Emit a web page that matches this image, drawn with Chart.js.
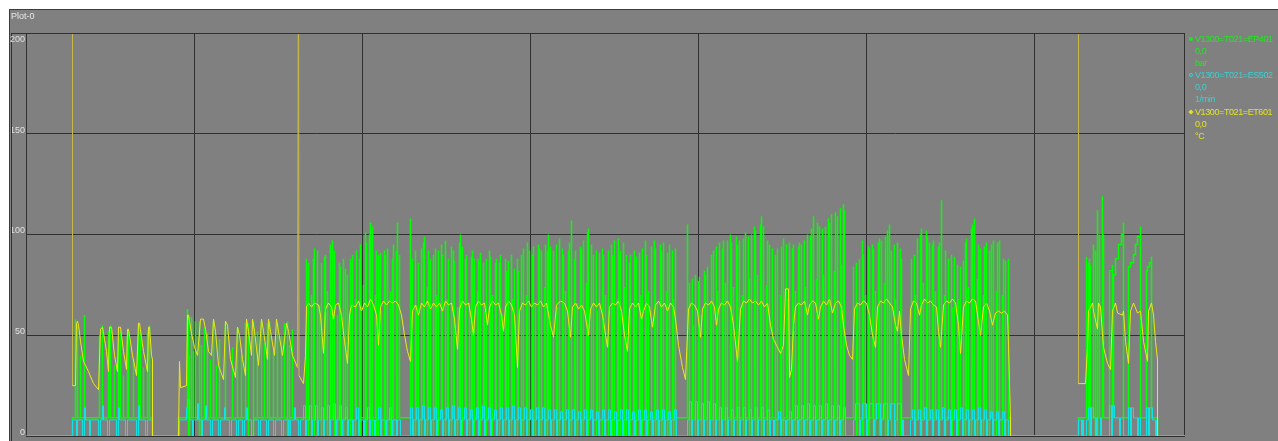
<!DOCTYPE html>
<html lang="de">
<head>
<meta charset="utf-8">
<title>Plot-0</title>
<script src="https://cdn.jsdelivr.net/npm/chart.js@4.4.1/dist/chart.umd.min.js"></script>
<style>
  html, body { margin: 0; padding: 0; background: #ffffff; }
  #panel { position: relative; width: 1278px; height: 441px; overflow: hidden; font-family: "Liberation Sans", Arial, sans-serif; }
  #plot { position: absolute; left: 0; top: 0; }
  #title { position: absolute; left: 11px; top: 11px; font-size: 9px; line-height: 10px; color: #e8e8e8; }
  #legend { position: absolute; left: 1188px; top: 33px; font-size: 9px; line-height: 12.1px; letter-spacing: -0.4px; white-space: nowrap; }
  #legend .row { position: relative; padding-left: 7px; }
  #legend .mark { position: absolute; left: 1px; top: 4px; width: 4px; height: 4px; box-sizing: border-box; }
  #legend .dot { border-radius: 50%; }
  #legend .ring { border-radius: 50%; border: 1px solid; }
  #legend .diamond { transform: rotate(45deg) scale(0.9); }
</style>
</head>
<body>
<div id="panel">
  <canvas id="plot" width="1278" height="441"></canvas>
  <div id="title">Plot-0</div>
  <div id="legend"></div>
</div>
<script>
(function() {
  'use strict';

  // Series meta
  const seriesNames = ['V1300=T021=EP401', 'V1300=T021=ES502', 'V1300=T021=ET601'];
  const seriesValues = ['0,0', '0,0', '0,0'];
  const seriesUnits = ['bar', '1/min', '°C'];
  const seriesColors = ['#00ff00', '#12e2e2', '#eaea18'];
  const markerLineColor = '#c8b848';
  const legendText = ['#22e622', '#3ccfcf', '#e2e224'];
  const legendMarks = ['dot', 'ring', 'diamond'];

  // Axes
  const valueTicks = [0, 50, 100, 150, 200];
  const timeTicks = [0, 168, 336, 504, 672, 840, 1008, 1158];

  // EP401 (bar) - sample index, value (drawn stepped)
  const greenEP401 = [
    0,0, 46,0, 46,9, 49,58,49,9, 51,55,51,9, 54,40,54,9, 58,60,58,9, 73,50,73,9, 76,55,76,9, 82,52,82,9, 84,55,84,9, 88,35,88,9, 92,48,92,9, 94,52,94,9, 97,30,97,9,
    101,50,101,9, 102,52,102,9, 107,38,107,9, 112,55,112,9, 114,52,114,9, 117,34,117,9, 121,52,121,9, 123,55,123,9, 126,9, 126,0, 152,0, 152,9,
    161,63,161,9, 162,60,162,0, 163,40,163,9, 165,59,165,9, 167,42,167,9, 169,57,169,9, 173,57,173,0, 175,45,175,9, 178,54,178,9, 181,51,181,9, 184,38,184,9, 187,57,187,9,
    190,35,190,9, 193,48,193,9, 199,56,199,9, 206,44,206,9, 211,54,211,9, 215,40,215,9, 219,56,219,9, 222,56,222,0, 227,57,227,9, 231,52,231,9, 235,57,235,9, 238,46,238,9,
    241,56,241,9, 243,57,243,9, 247,42,247,9, 251,56,251,9, 255,50,255,9, 258,56,258,9, 261,57,261,0, 263,45,263,9, 266,53,266,9,
    280,88,280,9, 282,86,282,0, 285,70,285,9, 287,88,287,9, 288,93,288,0, 291,92,291,9, 293,65,293,9, 295,86,295,0, 298,89,298,9, 299,90,299,9, 301,72,301,0, 304,95,304,9,
    306,97,306,9, 308,92,308,0, 311,60,311,9, 313,86,313,9, 314,84,314,0, 317,88,317,9, 319,83,319,9, 321,80,321,0,
    324,88,324,9, 326,90,326,0, 329,68,329,9, 330,92,330,9, 333,88,333,0, 334,95,334,9, 337,75,337,9, 339,101,339,0, 340,96,340,9, 343,100,343,9, 344,106,344,0, 346,104,346,9,
    349,70,349,9, 350,92,350,0, 352,90,352,9,
    354,91,354,9, 355,62,355,0, 358,92,358,9, 359,90,359,9, 361,93,361,0, 364,72,364,9, 366,88,366,9, 367,95,367,0, 370,92,370,9, 371,106,371,9, 373,90,373,9,
    384,108,384,9, 386,88,386,0, 389,92,389,9, 390,65,390,9, 392,86,392,0, 395,93,395,9, 397,96,397,9, 398,99,398,0, 401,74,401,9, 402,92,402,9, 404,88,404,0, 407,90,407,9,
    409,93,409,9, 410,70,410,0,
    412,92,412,9, 415,95,415,9, 416,90,416,0, 419,97,419,9, 421,68,421,9, 422,88,422,0, 425,94,425,9, 427,92,427,9, 428,87,428,0, 431,64,431,9, 433,96,433,9, 434,100,434,0, 436,94,436,9,
    439,88,439,9, 440,90,440,0, 443,66,443,9, 445,89,445,9, 446,92,446,0, 448,88,448,9, 451,72,451,9,
    452,88,452,0, 454,91,454,9, 457,86,457,9, 458,62,458,0, 460,88,460,9, 463,92,463,9, 464,89,464,0, 466,70,466,9, 469,86,469,9, 470,88,470,0,
    473,86,473,9, 474,90,474,9, 476,60,476,0, 479,88,479,9, 480,82,480,9, 482,87,482,0, 485,90,485,9, 486,68,486,9, 488,83,488,0, 491,88,491,9, 492,82,492,9,
    495,90,495,0, 497,93,497,9, 500,70,500,9, 501,96,501,0, 503,92,503,9, 506,90,506,9, 507,94,507,0, 509,66,509,9, 512,95,512,9, 513,93,513,0, 515,92,515,9, 518,74,518,9,
    519,95,519,0, 521,92,521,9, 522,100,522,9, 524,94,524,0,
    527,92,527,9, 530,95,530,9, 531,64,531,0, 533,98,533,9, 536,93,536,9, 537,90,537,0, 539,72,539,9, 542,92,542,9, 543,96,543,0, 545,107,545,9,
    548,88,548,9, 549,92,549,0, 551,66,551,9, 554,94,554,9, 555,93,555,0, 557,97,557,9, 560,76,560,9, 561,101,561,0, 562,103,562,9, 565,95,565,9,
    567,90,567,0, 570,92,570,9, 571,62,571,9, 573,91,573,0, 576,93,576,9, 577,90,577,9, 579,70,579,0,
    582,92,582,9, 585,95,585,9, 586,90,586,0, 588,97,588,9, 591,68,591,9, 592,98,592,0, 594,92,594,9, 597,96,597,9, 598,74,598,0, 600,90,600,9,
    603,86,603,9, 604,90,604,0, 607,64,607,9, 608,92,608,9, 610,89,610,0, 613,91,613,9, 614,70,614,9, 616,93,616,0, 619,97,619,9, 620,90,620,9, 622,72,622,0,
    625,94,625,9, 628,97,628,9, 629,93,629,0, 631,66,631,9, 634,95,634,9, 635,92,635,0, 637,96,637,9, 640,72,640,9, 641,91,641,0, 643,95,643,9, 646,92,646,9, 647,68,647,0, 649,93,649,9,
    661,105,661,9, 663,76,663,0, 666,78,666,9, 667,55,667,9, 669,80,669,0, 672,77,672,9, 673,79,673,9, 675,60,675,0, 678,82,678,9, 679,80,679,9, 681,84,681,0, 684,66,684,9,
    685,90,685,9, 687,92,687,0, 690,94,690,9, 691,72,691,9, 693,96,693,0, 696,93,696,9, 697,97,697,9, 699,76,699,0,
    701,97,701,9, 704,100,704,9, 705,96,705,0, 707,74,707,9, 710,99,710,9, 711,95,711,0, 713,97,713,9, 716,70,716,9, 717,98,717,0, 719,101,719,9, 722,99,722,9, 723,78,723,0,
    725,100,725,9, 728,104,728,9, 729,102,729,0, 731,80,731,9, 734,105,734,9, 735,109,735,0, 737,104,737,9, 740,75,740,9, 741,97,741,0, 743,95,743,9, 746,93,746,9,
    749,90,749,0, 751,93,751,9, 754,70,754,9, 755,94,755,0, 757,98,757,9, 760,95,760,9, 761,68,761,0, 763,96,763,9, 766,93,766,9, 767,95,767,0, 769,72,769,9, 772,94,772,9, 773,96,773,0,
    775,95,775,9, 778,97,778,9, 779,74,779,0, 781,100,781,9, 784,99,784,9, 785,103,785,0, 787,109,787,9, 790,78,790,9, 791,106,791,0, 793,104,793,9, 796,103,796,9, 797,80,797,0,
    799,104,799,9, 802,108,802,9, 803,106,803,0, 805,110,805,9, 808,82,808,9, 809,111,809,0, 811,109,811,9, 814,113,814,9, 815,85,815,0, 817,115,817,9, 818,112,818,9,
    827,84,827,9, 830,86,830,0, 831,65,831,9, 833,88,833,9, 836,97,836,0, 837,90,837,9, 839,70,839,9, 842,94,842,0, 843,93,843,9,
    846,95,846,9, 847,93,847,0, 849,72,849,9, 852,96,852,9, 853,98,853,0, 855,97,855,9, 858,76,858,9, 859,99,859,0, 861,102,861,9, 863,105,863,9,
    865,92,865,0, 868,95,868,9, 869,68,869,9, 871,96,871,0, 874,93,874,9, 875,88,875,9,
    885,88,885,9, 888,90,888,0, 889,70,889,9, 891,98,891,9, 894,100,894,0, 895,103,895,9, 897,76,897,9, 900,102,900,0, 901,99,901,9, 903,96,903,9,
    906,95,906,0, 907,97,907,9, 909,72,909,9, 912,94,912,0, 913,96,913,9, 915,117,915,9, 918,70,918,0, 919,92,919,9,
    922,88,922,9, 925,90,925,0, 926,64,926,9, 928,89,928,9, 931,85,931,0, 932,68,932,9, 934,84,934,9, 937,87,937,0,
    939,96,939,9, 940,98,940,9, 942,74,942,0, 945,103,945,9, 946,105,946,9, 948,108,948,0, 951,78,951,9,
    952,95,952,9, 954,93,954,0, 957,70,957,9, 958,94,958,9, 960,96,960,0, 963,92,963,9,
    965,95,965,9, 967,97,967,0, 970,72,970,9, 971,96,971,9, 973,97,973,0, 976,70,976,9, 977,88,977,9, 979,87,979,0, 982,88,982,9, 984,9, 984,0,
    1052,0, 1052,9, 1060,89,1060,9, 1062,86,1062,9, 1063,88,1063,0, 1064,85,1064,9, 1067,95,1067,9, 1069,92,1069,0, 1071,112,1071,9, 1073,100,1073,9, 1076,119,1076,9, 1077,100,1077,9,
    1083,82, 1086,85,1086,9, 1087,80, 1089,88, 1092,95, 1095,100, 1097,106,1097,9, 1102,84, 1104,86, 1107,90, 1109,95, 1111,99, 1114,104,1114,9,
    1120,82, 1121,84, 1123,86, 1125,89,1125,9, 1131,9, 1131,0, 1159,0
  ];

  // ES502 (1/min) - stepped
  const cyanES502 = [
    0,0, 46,8, 50,0, 51,8, 56,0, 58,14, 59,8, 63,0, 64,8, 72,0, 74,8, 76,15, 77,8, 81,0, 83,8, 90,0, 92,14, 93,8, 99,0, 101,8, 110,0, 112,15, 113,8, 119,0, 121,8, 126,0,
    152,0, 153,8, 160,14, 161,18, 163,8, 166,0, 167,8, 171,16, 172,8, 175,0, 176,8, 179,15, 180,8, 184,0, 186,8, 192,0, 194,8, 198,14, 199,8, 203,0, 205,8, 210,0, 212,8, 216,0,
    218,8, 220,14, 221,8, 225,0, 227,8, 232,0, 234,8, 240,0, 242,8, 247,0, 249,8, 255,0, 257,8, 262,0, 264,8, 268,14, 269,8, 272,0, 274,8,
    277,15, 279,0, 280,8, 283,15, 285,0, 286,8, 289,15, 291,0, 292,8, 295,14, 297,0, 298,8, 301,15, 303,0, 304,8, 307,16, 309,0, 310,8, 313,15, 315,0, 316,8, 319,14, 321,0,
    322,8, 326,0, 327,8, 330,14, 332,0, 333,8, 337,0, 338,8, 341,14, 343,0, 344,8, 348,0, 349,8, 352,14, 354,0, 355,8, 359,0, 360,8, 363,14, 365,0, 366,8, 370,0, 371,8, 374,0,
    384,14, 386,0, 387,8, 390,14, 392,0, 393,8, 396,15, 398,0, 399,8, 402,14, 404,0, 405,8, 408,14, 410,0, 411,8, 414,13, 416,0, 417,8, 420,14, 422,0, 423,8, 426,15, 428,0, 429,8,
    432,14, 434,0, 435,8, 438,14, 440,0, 441,8, 444,13, 446,0, 447,8, 450,14, 452,0, 453,8, 456,15, 458,0, 459,8, 462,14, 464,0, 465,8, 468,13, 470,0, 471,8, 474,14, 476,0, 477,8,
    480,14, 482,0, 483,8, 486,15, 488,0, 489,8, 492,14, 494,0, 495,8, 498,14, 500,0, 501,8, 504,13, 506,0, 507,8, 510,14, 512,0, 513,8, 516,14, 518,0, 519,8, 522,13, 524,0,
    525,8, 528,13, 530,0, 531,8, 534,12, 536,0, 537,8, 540,13, 542,0, 543,8, 546,13, 548,0, 549,8, 552,12, 554,0, 555,8, 558,13, 560,0, 561,8, 564,13, 566,0, 567,8, 570,12, 572,0,
    573,8, 576,13, 578,0, 579,8, 582,13, 584,0, 585,8, 588,12, 590,0, 591,8, 594,13, 596,0, 597,8, 600,13, 602,0, 603,8, 606,12, 608,0, 609,8, 612,13, 614,0, 615,8, 618,13, 620,0,
    621,8, 624,12, 626,0, 627,8, 630,13, 632,0, 633,8, 636,13, 638,0, 639,8, 642,12, 644,0, 645,8, 648,13, 650,0,
    661,8, 663,17, 665,0, 666,8, 669,17, 671,0, 672,8, 675,16, 677,0, 678,8, 681,17, 683,0, 684,8, 687,16, 689,0,
    690,8, 693,14, 695,0, 696,8, 699,14, 701,0, 702,8, 705,13, 707,0, 708,8, 711,14, 713,0, 714,8, 717,14, 719,0, 720,8, 723,13, 725,0, 726,8, 729,14, 731,0, 732,8, 735,14, 737,0,
    738,8, 741,13, 743,0, 744,8, 747,0, 748,8, 752,12, 754,0, 755,8, 759,0, 760,8, 763,12, 765,0, 766,8,
    769,15, 771,0, 772,8, 775,15, 777,0, 778,8, 781,16, 783,0, 784,8, 787,15, 789,0, 790,8, 793,15, 795,0, 796,8, 799,16, 801,0, 802,8, 805,15, 807,0, 808,8, 811,15, 813,0, 814,8, 817,14, 819,0,
    827,8, 829,16, 833,0, 834,8, 836,16, 840,0, 841,8, 843,16, 847,0, 848,8, 850,16, 854,0, 855,8, 857,16, 861,0, 862,8, 864,16, 868,0, 869,8, 871,16, 875,0, 876,8, 877,0,
    884,8, 886,13, 888,0, 889,8, 892,13, 894,0, 895,8, 898,14, 900,0, 901,8, 904,13, 906,0, 907,8, 910,13, 912,0, 913,8, 916,14, 918,0, 919,8, 922,13, 924,0, 925,8, 928,13, 930,0,
    931,8, 934,14, 936,0, 937,8, 940,13, 942,0, 943,8, 946,13, 948,0, 949,8, 952,14, 954,0, 955,8, 958,13, 960,0, 961,8, 964,12, 966,0, 967,8, 970,12, 972,0, 973,8, 976,12, 978,0, 979,8, 982,0,
    1052,8, 1055,0, 1056,8, 1057,0, 1060,8, 1062,14, 1064,0, 1065,14, 1067,9, 1069,0, 1070,9, 1071,0, 1074,9, 1075,0, 1083,15, 1085,0, 1086,15, 1088,9, 1093,0, 1094,9, 1097,0,
    1102,14, 1104,0, 1105,14, 1107,9, 1111,0, 1112,9, 1114,0, 1120,14, 1122,0, 1123,14, 1126,8, 1129,0, 1130,8, 1131,0, 1159,0
  ];

  // ET601 (°C) - null breaks the trace
  const yellowET601 = [
    46,250, 46,25, 49,25, 50,56, 51,57, 52,55, 54,47, 57,37, 62,32, 67,26, 72,23, 74,53, 76,54, 78,48, 80,42, 82,32, 83,54, 85,54, 88,40, 91,32, 92,54, 94,54, 97,42, 100,33,
    101,53, 102,53, 106,40, 110,30, 112,56, 113,56, 117,42, 121,32, 122,54, 123,54, 125,40, 126,38, 126,0, 127,null,
    152,0, 153,37, 154,24, 160,25, 161,60, 162,60, 165,51, 168,44, 171,40, 174,58, 177,58, 179,53, 182,42, 185,40, 187,58, 189,52, 192,35, 197,28, 199,57, 201,55, 204,38, 209,29,
    211,54, 213,50, 216,38, 219,30, 220,58, 222,52, 225,40, 226,58, 228,52, 232,35, 235,58, 237,52, 241,38, 242,58, 244,52, 248,40, 250,58, 252,52, 256,40, 260,56, 262,52, 266,40, 271,34,
    272,250, 272.5,30, 277,26, 279,40, 280,64,
    282,66, 285,64, 288,66, 292,65, 294,60, 297,41, 299,63, 302,66, 305,64, 307,58, 309,65, 312,66, 315,60, 318,47, 321,36, 323,60, 325,65, 329,64, 332,67, 335,62, 338,66, 341,64,
    344,68, 347,65, 350,60, 352,45, 354,64, 357,67, 360,65, 363,67, 366,66, 369,67, 372,65, 375,60, 378,50, 381,42, 384,37, 386,62, 389,65, 392,60, 395,66, 398,64, 401,67, 404,63,
    407,66, 410,64, 413,66, 416,62, 419,67, 422,65, 425,66, 428,58, 431,43, 433,63, 436,67, 439,65, 442,66, 445,58, 447,50, 449,64, 452,67, 455,65, 458,66, 461,55, 463,64, 466,67,
    469,65, 472,66, 475,60, 477,52, 479,64, 482,67, 485,65, 488,60, 491,34, 493,62, 496,66, 499,65, 502,67, 505,64, 508,66, 511,65, 514,67, 517,64, 520,66, 524,55, 527,49, 530,65,
    534,67, 538,66, 541,62, 544,49, 546,64, 549,66, 552,63, 555,65, 558,62, 562,50, 564,63, 567,66, 570,64, 573,66, 576,60, 581,44, 583,64, 586,66, 589,65, 592,67, 595,62, 598,50,
    601,42, 603,63, 606,66, 609,64, 612,66, 615,58, 617,62, 620,66, 623,64, 626,54, 629,65, 632,67, 635,64, 638,66, 641,62, 644,66, 647,64, 649,58, 652,45, 656,34, 659,28, 662,63,
    665,66, 668,65, 671,62, 674,49, 676,63, 679,66, 682,65, 685,67, 688,64, 690,55, 692,63, 695,66, 698,65, 701,67, 704,64, 707,55, 711,37, 714,63, 717,67, 720,66, 723,68, 726,66,
    729,67, 732,65, 735,67, 738,64, 741,66, 744,55, 747,48, 750,45, 754,41, 757,45, 759,73, 762,73, 763,29, 765,33, 767,55, 769,64, 772,66, 775,65, 778,67, 781,60, 783,65, 786,67,
    789,66, 792,58, 794,64, 797,67, 800,65, 803,68, 806,61, 809,66, 812,67, 815,64, 817,55, 820,45, 823,40, 826,38, 828,63, 831,66, 834,65, 837,67, 840,66, 843,60, 846,50, 849,44,
    851,64, 854,67, 857,66, 860,68, 863,66, 866,64, 869,55, 871,52, 873,62, 875,50, 878,38, 882,30, 884,63, 887,67, 890,66, 893,60, 895,65, 898,68, 901,66, 904,67, 907,65, 910,64,
    912,52, 914,44, 917,65, 920,67, 923,66, 926,68, 929,66, 932,55, 934,41, 937,64, 940,67, 943,66, 946,68, 949,67, 951,60, 954,50, 957,64, 960,66, 963,62, 966,55, 969,61, 972,62,
    975,61, 978,62, 981,60, 982,45, 984,8, 984,0, 985,null,
    1052,250, 1052,26, 1059,26, 1061,44, 1062,62, 1066,66, 1067,62, 1071,53, 1072,66, 1074,64, 1077,44, 1081,36, 1084,33, 1086,62, 1089,66, 1091,61, 1096,60, 1097,62, 1099,47,
    1102,36, 1104,62, 1107,66, 1111,61, 1114,62, 1117,47, 1121,37, 1122,62, 1125,66, 1127,60, 1129,47, 1131,38, 1131,0
  ];

  const FONT = '"Liberation Sans", Arial, sans-serif';
  const GRID = '#303030';
  const yMax = valueTicks[valueTicks.length - 1];

  function toPoints(flat) {
    const pts = [];
    for (let i = 0; i < flat.length; i += 2) pts.push({ x: flat[i], y: flat[i + 1] });
    return pts;
  }

  function renderLegend() {
    const el = document.getElementById('legend');
    el.innerHTML = seriesNames.map((name, i) => `
      <div class="row" style="color:${legendText[i]}"><span class="mark ${legendMarks[i]}" style="${legendMarks[i] === 'ring' ? 'border-color' : 'background'}:${legendText[i]}"></span>${name}</div>
      <div class="row" style="color:${legendText[i]}">${seriesValues[i]}</div>
      <div class="row" style="color:${legendText[i]}">${seriesUnits[i]}</div>
    `).join('');
  }

  // panel background, label strip frame and the top "200" label
  const panelPlugin = {
    id: 'panel',
    beforeDraw(chart) {
      const c = chart.ctx;
      c.save();
      c.fillStyle = '#ffffff';
      c.fillRect(0, 0, chart.width, chart.height);
      c.fillStyle = '#808080';
      c.fillRect(9, 9, chart.width - 9, chart.height - 9);
      c.strokeStyle = '#3c3c3c';
      c.lineWidth = 1;
      c.strokeRect(9.5, 9.5, chart.width, chart.height);
      c.restore();
    },
    afterDraw(chart) {
      const c = chart.ctx;
      const a = chart.chartArea;
      const y = chart.scales.y;
      const stripLeft = Math.round(a.left) - 15;
      c.save();
      c.strokeStyle = GRID;
      c.lineWidth = 1;
      c.beginPath();
      c.moveTo(stripLeft + 0.5, a.top);
      c.lineTo(stripLeft + 0.5, chart.height);
      c.moveTo(stripLeft, Math.round(a.top) + 0.5);
      c.lineTo(a.right, Math.round(a.top) + 0.5);
      c.stroke();
      c.fillStyle = '#e0e0e0';
      c.font = '9px ' + FONT;
      c.textAlign = 'right';
      c.textBaseline = 'top';
      c.fillText(String(yMax), a.left - 1, y.getPixelForValue(yMax) + 2);
      c.restore();
    }
  };

  function renderChart() {
    const ctx = document.getElementById('plot').getContext('2d');
    new Chart(ctx, {
      type: 'line',
      data: {
        datasets: [
          { label: seriesNames[0], data: toPoints(greenEP401), borderColor: seriesColors[0], borderWidth: 1.5, stepped: true, order: 2 },
          { label: seriesNames[1], data: toPoints(cyanES502), borderColor: seriesColors[1], stepped: true, order: 1 },
          {
            label: seriesNames[2], data: toPoints(yellowET601), borderColor: seriesColors[2], order: 0,
            // off-scale excursions show as duller marker lines
            segment: { borderColor: s => (s.p0.parsed.y > yMax || s.p1.parsed.y > yMax ? markerLineColor : undefined) }
          }
        ]
      },
      options: {
        responsive: false,
        animation: false,
        devicePixelRatio: 1,
        events: [],
        layout: { padding: { left: 11, top: 33, right: 93, bottom: 5 } },
        elements: {
          line: { borderWidth: 1, tension: 0, fill: false },
          point: { radius: 0, hoverRadius: 0 }
        },
        plugins: { legend: { display: false }, tooltip: { enabled: false } },
        scales: {
          x: {
            type: 'linear',
            // half a sample of slack so each sample sits on a pixel centre
            min: timeTicks[0] - 0.5,
            max: timeTicks[timeTicks.length - 1] + 0.5,
            afterBuildTicks: axis => { axis.ticks = timeTicks.map(v => ({ value: v })); },
            ticks: { display: false },
            grid: { color: GRID, drawTicks: false },
            border: { display: false },
            afterFit: axis => { axis.height = 0; axis.paddingLeft = 0; axis.paddingRight = 0; }
          },
          y: {
            min: valueTicks[0],
            max: yMax,
            afterBuildTicks: axis => { axis.ticks = valueTicks.map(v => ({ value: v })); },
            ticks: {
              align: 'end',
              labelOffset: 1,
              padding: 1,
              color: '#e0e0e0',
              font: { family: FONT, size: 9 },
              callback: v => (v === yMax ? '' : String(v))
            },
            grid: { color: GRID, drawTicks: false },
            border: { color: GRID },
            afterFit: axis => { axis.width = 15; axis.paddingTop = 0; axis.paddingBottom = 0; }
          }
        }
      },
      plugins: [panelPlugin]
    });
  }

  function init() {
    renderLegend();
    renderChart();
  }

  if (document.readyState === 'loading') {
    document.addEventListener('DOMContentLoaded', init);
  } else {
    init();
  }
})();
</script>
</body>
</html>
